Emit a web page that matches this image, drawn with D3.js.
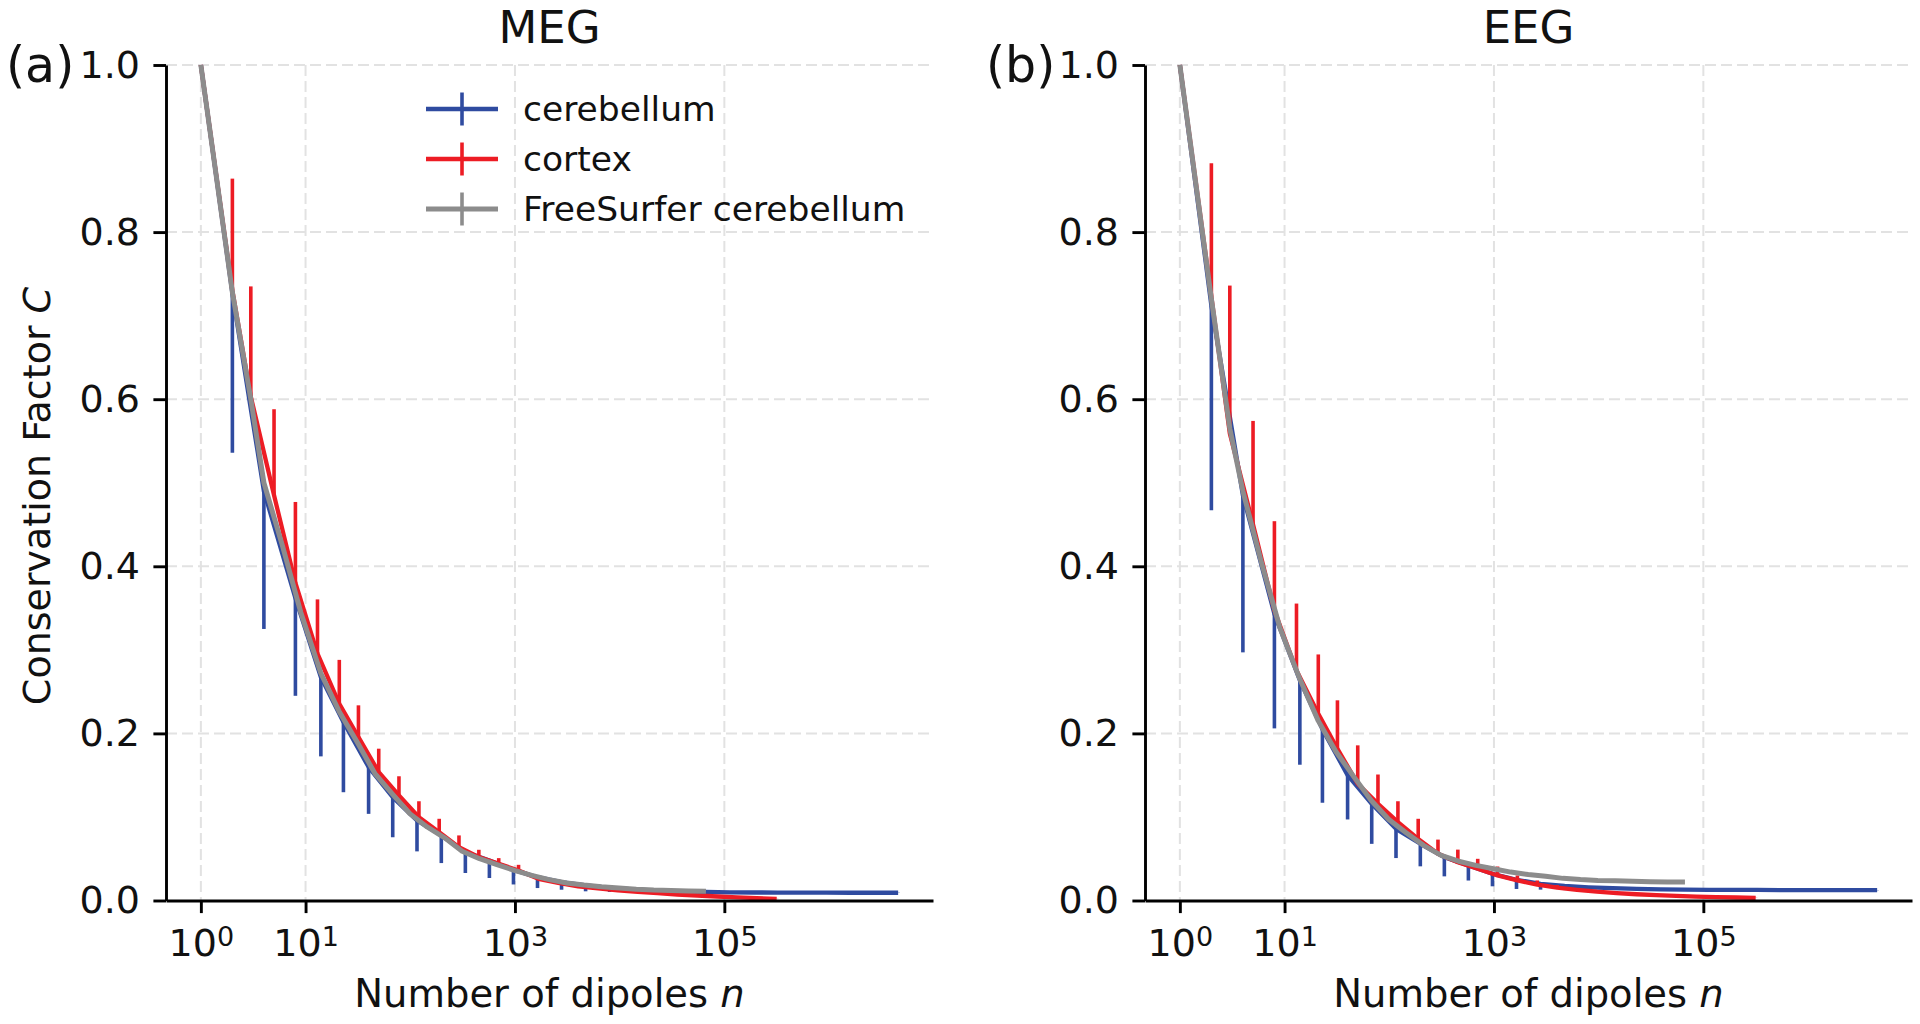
<!DOCTYPE html>
<html>
<head>
<meta charset="utf-8">
<script src="https://cdn.jsdelivr.net/npm/d3@7"></script>
<style>
  html, body { margin: 0; padding: 0; background: #ffffff; }
  svg { display: block; }
  text { font-family: "DejaVu Sans", sans-serif; }
</style>
</head>
<body>
<svg id="chart" width="1920" height="1024"></svg>
<script>
// ---------------- DATA ----------------
const panelTitles = ["MEG", "EEG"];
const panelTags = ["(a)", "(b)"];
const seriesNames = ["cerebellum", "cortex", "FreeSurfer cerebellum"];
const xTickValues = [1, 10, 1000, 100000];
const xTickExponents = ["0", "1", "3", "5"];
const yTickValues = [0, 0.2, 0.4, 0.6, 0.8, 1.0];
const yTickLabels = ["0.0", "0.2", "0.4", "0.6", "0.8", "1.0"];

// number of dipoles n for each series
const nCerebellum = [1, 2, 4, 8, 14, 23, 40, 68, 116, 198, 336, 570, 968, 1642, 2787, 4730, 8025, 13620, 23110, 39220, 66560, 112900, 191600, 325200, 551800, 936400, 1589000, 2697000, 4571000];
const nCortex = [1, 2, 3, 5, 8, 13, 21, 32, 50, 78, 121, 189, 292, 452, 700, 1082, 1675, 2593, 4013, 6212, 9612, 14874, 23017, 35622, 55130, 85317, 132035, 204330, 316227];
const nFreeSurfer = [1, 2, 3, 4, 6, 9, 14, 21, 31, 46, 67, 99, 145, 213, 313, 459, 673, 987, 1448, 2124, 3115, 4569, 6702, 9830, 14418, 21147, 31018, 45496, 66730];

// MEG
const megCerebellum = [1.0, 0.727, 0.49, 0.362, 0.2675, 0.2136, 0.1597, 0.1237, 0.0958, 0.0778, 0.0579, 0.0479, 0.0367, 0.0279, 0.0219, 0.018, 0.0152, 0.0132, 0.0118, 0.0108, 0.0102, 0.0098, 0.0096, 0.0095, 0.0094, 0.0094, 0.0093, 0.0093, 0.0093];
const megCerebellumErrLow = [0, 0.191, 0.165, 0.117, 0.095, 0.084, 0.056, 0.048, 0.037, 0.033, 0.025, 0.021, 0.0175, 0.013, 0.009, 0.007, 0.005, 0.004, 0.003, 0.002, 0.0015, 0.001, 0.0008, 0.0006, 0.0005, 0.0004, 0.0003, 0.0003, 0.0003];
const megCortex = [1.0, 0.730, 0.603, 0.485, 0.380, 0.2954, 0.2355, 0.1956, 0.1537, 0.1257, 0.0998, 0.0818, 0.0639, 0.0519, 0.0439, 0.036, 0.026, 0.021, 0.017, 0.0145, 0.012, 0.0103, 0.0088, 0.0072, 0.006, 0.0048, 0.0037, 0.0028, 0.002];
const megCortexErrHigh = [0, 0.134, 0.132, 0.103, 0.097, 0.065, 0.0525, 0.038, 0.028, 0.023, 0.019, 0.016, 0.014, 0.0088, 0.0068, 0.0067, 0.004, 0.004, 0.003, 0.002, 0.0015, 0.001, 0.001, 0.0008, 0.0007, 0.0005, 0.0004, 0.0003, 0.0002];
const megFreeSurfer = [1.0, 0.728, 0.600, 0.500, 0.425, 0.345, 0.272, 0.226, 0.190, 0.152, 0.128, 0.104, 0.088, 0.075, 0.059, 0.050, 0.043, 0.036, 0.030, 0.025, 0.021, 0.0185, 0.0165, 0.015, 0.0135, 0.0125, 0.012, 0.0115, 0.011];

// EEG
const eegCerebellum = [1.0, 0.712, 0.485, 0.343, 0.2635, 0.205, 0.150, 0.1158, 0.0858, 0.0679, 0.0519, 0.0419, 0.032, 0.0248, 0.020, 0.0175, 0.0158, 0.0147, 0.0138, 0.0133, 0.013, 0.0128, 0.0127, 0.0126, 0.0125, 0.0125, 0.0125, 0.0125, 0.0125];
const eegCerebellumErrLow = [0, 0.245, 0.188, 0.137, 0.101, 0.088, 0.053, 0.048, 0.035, 0.027, 0.023, 0.018, 0.015, 0.011, 0.007, 0.005, 0.003, 0.002, 0.0015, 0.001, 0.001, 0.0008, 0.0006, 0.0005, 0.0004, 0.0003, 0.0003, 0.0003, 0.0003];
const eegCortex = [1.0, 0.7225, 0.559, 0.450, 0.347, 0.2754, 0.2235, 0.1816, 0.1397, 0.1158, 0.0938, 0.0738, 0.0559, 0.0459, 0.0379, 0.030, 0.024, 0.019, 0.0155, 0.0128, 0.0105, 0.0088, 0.0075, 0.0065, 0.0055, 0.0047, 0.0041, 0.0036, 0.0032];
const eegCortexErrHigh = [0, 0.160, 0.177, 0.124, 0.107, 0.080, 0.071, 0.058, 0.046, 0.035, 0.025, 0.024, 0.017, 0.015, 0.012, 0.0107, 0.006, 0.005, 0.003, 0.002, 0.0015, 0.001, 0.001, 0.0008, 0.0007, 0.0005, 0.0004, 0.0003, 0.0002];
const eegFreeSurfer = [1.0, 0.720, 0.565, 0.490, 0.405, 0.327, 0.265, 0.215, 0.178, 0.148, 0.120, 0.097, 0.081, 0.066, 0.054, 0.047, 0.042, 0.038, 0.034, 0.031, 0.029, 0.0265, 0.025, 0.024, 0.0235, 0.023, 0.0225, 0.022, 0.022];

// ---------------- LAYOUT / STYLE ----------------
const COL_CEREB = "#2f4ba0";
const COL_CORTEX = "#ed1c24";
const COL_FS = "#8c8c8c";
const FONT = "DejaVu Sans, sans-serif";
const yTop = 65, yBottom = 900.5;
const xDomain = [Math.pow(10, -0.333), Math.pow(10, 6.993)];
const LW_LINE = 4.3, LW_FS = 5, LW_BAR = 3.6;

const panels = [
  { x0: 166, x1: 933, tagX: 6, legend: true, ylabel: true,
    cereb: megCerebellum, cerebErr: megCerebellumErrLow,
    cortex: megCortex, cortexErr: megCortexErrHigh, fs: megFreeSurfer },
  { x0: 1145, x1: 1912, tagX: 986, legend: false, ylabel: false,
    cereb: eegCerebellum, cerebErr: eegCerebellumErrLow,
    cortex: eegCortex, cortexErr: eegCortexErrHigh, fs: eegFreeSurfer }
];

const svg = d3.select("#chart");
svg.append("rect").attr("width", 1920).attr("height", 1024).attr("fill", "#fff");

panels.forEach((p, i) => {
  const x = d3.scaleLog().domain(xDomain).range([p.x0, p.x1]);
  const y = d3.scaleLinear().domain([0, 1]).range([yBottom, yTop]);
  const g = svg.append("g");

  // grid
  const grid = g.append("g").attr("stroke", "#e2e2e2").attr("stroke-width", 2).attr("stroke-dasharray", "11,5");
  grid.selectAll("line.h").data(yTickValues.filter(v => v > 0)).join("line")
    .attr("class", "h")
    .attr("x1", p.x0).attr("x2", p.x1)
    .attr("y1", d => y(d)).attr("y2", d => y(d));
  grid.selectAll("line.v").data(xTickValues).join("line")
    .attr("class", "v")
    .attr("x1", d => x(d)).attr("x2", d => x(d))
    .attr("y1", yTop).attr("y2", yBottom);

  const line = d3.line().x(d => x(d.n)).y(d => y(d.c));

  const cereb = nCerebellum.map((n, k) => ({ n, c: p.cereb[k], e: p.cerebErr[k] }));
  const cortex = nCortex.map((n, k) => ({ n, c: p.cortex[k], e: p.cortexErr[k] }));
  const fs = nFreeSurfer.map((n, k) => ({ n, c: p.fs[k] }));

  // cerebellum: error bars (lower) + line
  g.append("g").selectAll("line").data(cereb.filter(d => d.e > 0)).join("line")
    .attr("x1", d => x(d.n)).attr("x2", d => x(d.n))
    .attr("y1", d => y(d.c)).attr("y2", d => y(d.c - d.e))
    .attr("stroke", COL_CEREB).attr("stroke-width", LW_BAR);
  g.append("path").datum(cereb).attr("d", line)
    .attr("fill", "none").attr("stroke", COL_CEREB).attr("stroke-width", LW_LINE)
    .attr("stroke-linejoin", "round");

  // cortex: error bars (upper) + line
  g.append("g").selectAll("line").data(cortex.filter(d => d.e > 0)).join("line")
    .attr("x1", d => x(d.n)).attr("x2", d => x(d.n))
    .attr("y1", d => y(d.c)).attr("y2", d => y(d.c + d.e))
    .attr("stroke", COL_CORTEX).attr("stroke-width", LW_BAR);
  g.append("path").datum(cortex).attr("d", line)
    .attr("fill", "none").attr("stroke", COL_CORTEX).attr("stroke-width", LW_LINE)
    .attr("stroke-linejoin", "round");

  // FreeSurfer cerebellum line
  g.append("path").datum(fs).attr("d", line)
    .attr("fill", "none").attr("stroke", COL_FS).attr("stroke-width", LW_FS)
    .attr("stroke-linejoin", "round");

  // axes
  const yAxis = d3.axisLeft(y).tickValues(yTickValues)
    .tickFormat((d, j) => yTickLabels[j]).tickSize(12.6).tickSizeOuter(0).tickPadding(13.4);
  const ya = g.append("g").attr("transform", `translate(${p.x0},0)`).call(yAxis);
  ya.select(".domain").attr("stroke", "#000").attr("stroke-width", 2.9);
  ya.selectAll(".tick line").attr("stroke", "#000").attr("stroke-width", 2.9);
  ya.selectAll(".tick text").attr("font-size", 38).attr("font-family", FONT).attr("fill", "#111");

  const xAxis = d3.axisBottom(x).tickValues(xTickValues)
    .tickFormat(() => "").tickSize(12.6).tickSizeOuter(0).tickPadding(15.5);
  const xa = g.append("g").attr("transform", `translate(0,${yBottom})`).call(xAxis);
  xa.select(".domain").attr("stroke", "#000").attr("stroke-width", 2.9);
  xa.selectAll(".tick line").attr("stroke", "#000").attr("stroke-width", 2.9);
  xa.selectAll(".tick text").each(function(d, j) {
    const t = d3.select(this).attr("font-size", 38).attr("font-family", FONT).attr("fill", "#111");
    t.text(null);
    t.append("tspan").text("10");
    t.append("tspan").attr("font-size", 27).attr("dy", -10).text(xTickExponents[j]);
  });

  // title
  g.append("text").attr("x", (p.x0 + p.x1) / 2).attr("y", 42.7)
    .attr("text-anchor", "middle").attr("font-size", 45).attr("fill", "#111")
    .text(panelTitles[i]);
  // panel tag
  g.append("text").attr("x", p.tagX).attr("y", 82)
    .attr("font-size", 49).attr("fill", "#111").text(panelTags[i]);

  // x label
  const xl = g.append("text").attr("x", (p.x0 + p.x1) / 2).attr("y", 1007)
    .attr("text-anchor", "middle").attr("font-size", 38.5).attr("fill", "#111");
  xl.append("tspan").text("Number of dipoles ");
  xl.append("tspan").attr("font-style", "italic").text("n");

  if (p.ylabel) {
    const yl = g.append("text").attr("transform", "translate(50,496) rotate(-90)")
      .attr("text-anchor", "middle").attr("font-size", 38).attr("fill", "#111");
    yl.append("tspan").text("Conservation Factor ");
    yl.append("tspan").attr("font-style", "italic").text("C");
  }

  if (p.legend) {
    const colors = [COL_CEREB, COL_CORTEX, COL_FS];
    const widths = [LW_LINE, LW_LINE, LW_FS];
    const rows = [109, 159, 209];
    const lg = g.append("g");
    seriesNames.forEach((name, k) => {
      lg.append("line").attr("x1", 426).attr("x2", 498).attr("y1", rows[k]).attr("y2", rows[k])
        .attr("stroke", colors[k]).attr("stroke-width", widths[k]);
      lg.append("line").attr("x1", 462).attr("x2", 462).attr("y1", rows[k] - 16.5).attr("y2", rows[k] + 16.5)
        .attr("stroke", colors[k]).attr("stroke-width", LW_BAR);
      lg.append("text").attr("x", 523).attr("y", rows[k] + 12)
        .attr("font-size", 34.5).attr("fill", "#111").text(name);
    });
  }
});
</script>
</body>
</html>
